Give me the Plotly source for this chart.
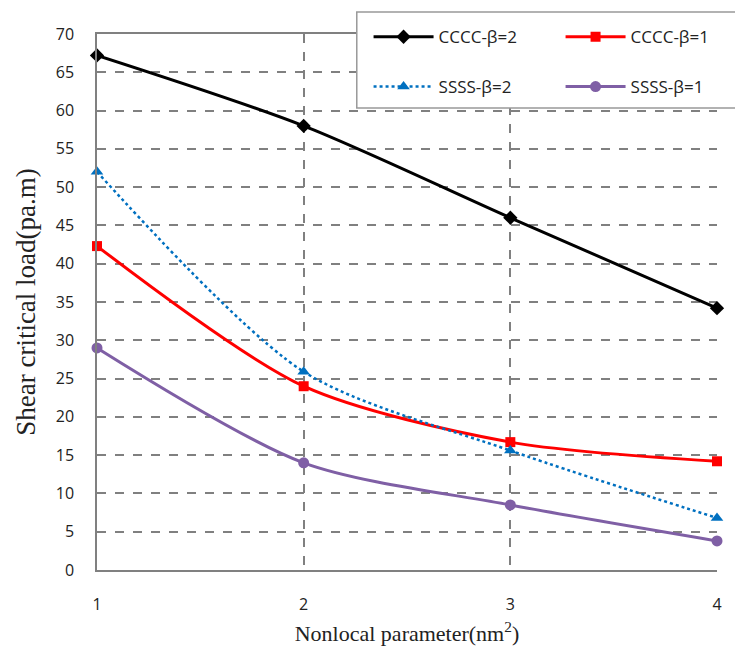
import plotly.graph_objects as go

x_vals = [1, 2, 3, 4]
cccc_b2 = [67.2, 58.0, 46.0, 34.2]
cccc_b1 = [42.3, 24.0, 16.7, 14.2]
ssss_b2 = [52.0, 25.9, 15.6, 6.8]
ssss_b1 = [29.0, 14.0, 8.5, 3.8]

names = ["CCCC-β=2", "CCCC-β=1", "SSSS-β=2", "SSSS-β=1"]
series = [cccc_b2, cccc_b1, ssss_b2, ssss_b1]
colors = ["#000000", "#FF0000", "#0070C0", "#7F5FA5"]
symbols = ["diamond", "square", "triangle-up", "circle"]
dashes = ["solid", "solid", "dot", "solid"]
widths = [3, 3, 2.5, 3]
sizes = [11, 10, 11, 11]
legend_ids = ["legend", "legend", "legend2", "legend2"]

fig = go.Figure()
for n, s, c, sym, d, w, sz, lg in zip(names, series, colors, symbols, dashes, widths, sizes, legend_ids):
    fig.add_trace(go.Scatter(
        x=x_vals, y=s, name=n, mode="lines+markers",
        line=dict(color=c, width=w, dash=d, shape="spline", smoothing=0.8),
        marker=dict(symbol=sym, size=sz, color=c),
        cliponaxis=False, legend=lg,
    ))

grid = "#808080"
leg_font = dict(family="Open Sans, Liberation Sans, sans-serif", size=17, color="#222")
leg_common = dict(
    orientation="h", xanchor="left", yanchor="middle",
    entrywidth=117, entrywidthmode="pixels", itemwidth=60,
    bgcolor="rgba(0,0,0,0)", borderwidth=0, font=leg_font,
)

fig.add_shape(type="rect", xref="paper", yref="paper",
              x0=0.419, x1=1.04, y0=0.862, y1=1.041,
              line=dict(color="#999999", width=1.5), fillcolor="white", layer="above")

fig.update_layout(
    width=735, height=650,
    paper_bgcolor="white", plot_bgcolor="white",
    margin=dict(l=97, r=18, t=34, b=80, autoexpand=False),
    font=dict(family="Open Sans, Liberation Sans, sans-serif", size=16, color="#222"),
    showlegend=True,
    legend=dict(x=0.438, y=0.994, **leg_common),
    legend2=dict(x=0.438, y=0.901, **leg_common),
    xaxis=dict(
        range=[1, 4], tickvals=x_vals, ticktext=["1", "2", "3", "4"],
        showgrid=True, gridcolor=grid, griddash="dash", gridwidth=1.5,
        showline=True, linecolor=grid, linewidth=1.5, mirror=True,
        ticks="", ticklabelstandoff=19, zeroline=False, automargin=False,
        title=dict(text="Nonlocal parameter(nm<sup>2</sup>)",
                   font=dict(family="Liberation Serif, Times New Roman, serif", size=22, color="#222"),
                   standoff=12),
    ),
    yaxis=dict(
        range=[0, 70], dtick=5,
        showgrid=True, gridcolor=grid, griddash="dash", gridwidth=1.5,
        showline=True, linecolor=grid, linewidth=1.5, mirror=False,
        ticks="", ticklabelstandoff=18, zeroline=False, automargin=False,
        title=dict(text="Shear critical load(pa.m)",
                   font=dict(family="Liberation Serif, Times New Roman, serif", size=27, color="#222"),
                   standoff=12),
    ),
)
fig.write_html("out.html", config={"displayModeBar": False},
               post_script="document.body.style.margin='0';document.body.style.overflow='hidden';")
